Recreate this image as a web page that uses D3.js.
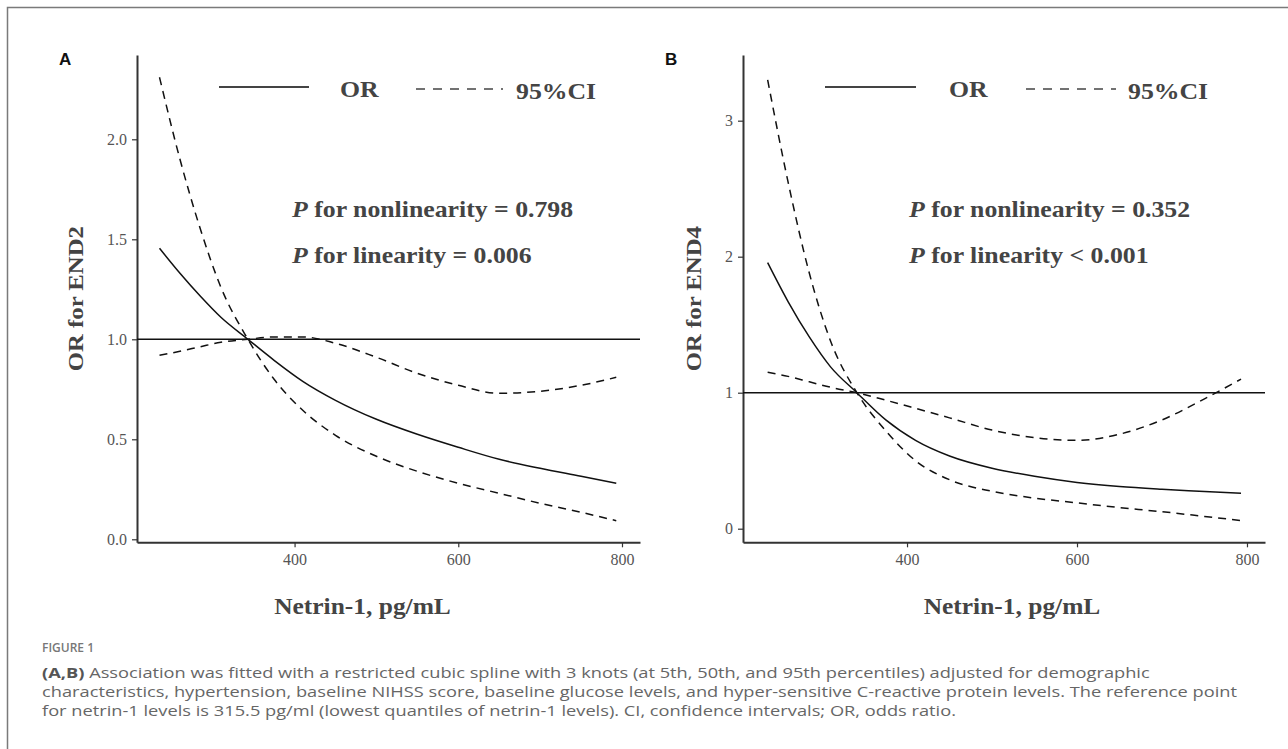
<!DOCTYPE html>
<html><head><meta charset="utf-8">
<script src="https://cdn.jsdelivr.net/npm/d3@7"></script>
<style>
html,body{margin:0;padding:0;background:#fff;}
svg{display:block;}
</style></head>
<body>
<svg id="chart" width="1288" height="749"></svg>
<script>
// ---------- data ----------
const xTicks = [400, 600, 800];
const xA = [235, 260, 285, 310, 343, 375, 410, 450, 500, 550, 600, 650, 700, 750, 793];
const orA = [1.455, 1.33, 1.215, 1.11, 1.0, 0.895, 0.79, 0.695, 0.60, 0.525, 0.46, 0.40, 0.355, 0.315, 0.28];
const lowA = [2.31, 1.90, 1.55, 1.26, 1.0, 0.80, 0.645, 0.52, 0.415, 0.34, 0.28, 0.23, 0.18, 0.135, 0.093];
const upA = [0.92, 0.94, 0.963, 0.985, 1.0, 1.012, 1.012, 0.98, 0.91, 0.83, 0.77, 0.73, 0.74, 0.77, 0.81];
const yTicksA = [0, 0.5, 1.0, 1.5, 2.0];

const xB = [236, 260, 285, 310, 341, 375, 410, 450, 500, 550, 600, 650, 700, 750, 793];
const orB = [1.956, 1.67, 1.41, 1.19, 1.0, 0.80, 0.65, 0.535, 0.445, 0.385, 0.34, 0.31, 0.29, 0.274, 0.26];
const lowB = [3.30, 2.55, 1.88, 1.38, 1.0, 0.72, 0.50, 0.36, 0.275, 0.225, 0.19, 0.155, 0.125, 0.09, 0.06];
const upB = [1.15, 1.12, 1.08, 1.04, 1.0, 0.945, 0.885, 0.815, 0.725, 0.67, 0.65, 0.695, 0.80, 0.955, 1.1];
const yTicksB = [0, 1, 2, 3];

const legendLabels = ["OR", "95%CI"];
const pTextA = ["for nonlinearity = 0.798", "for linearity = 0.006"];
const pTextB = ["for nonlinearity = 0.352", "for linearity < 0.001"];
const xTitle = "Netrin-1, pg/mL";
const yTitleA = "OR for END2";
const yTitleB = "OR for END4";
const captionHead = "FIGURE 1";
const captionLines = [
  ["(A,B)", " Association was fitted with a restricted cubic spline with 3 knots (at 5th, 50th, and 95th percentiles) adjusted for demographic"],
  ["", "characteristics, hypertension, baseline NIHSS score, baseline glucose levels, and hyper-sensitive C-reactive protein levels. The reference point"],
  ["", "for netrin-1 levels is 315.5 pg/ml (lowest quantiles of netrin-1 levels). CI, confidence intervals; OR, odds ratio."]
];

// ---------- drawing ----------
const svg = d3.select("#chart");
const serif = "'Liberation Serif','Times New Roman',serif";

function stretch(sel, k){
  const w = sel.node().getComputedTextLength();
  sel.attr("textLength", w * k).attr("lengthAdjust", "spacingAndGlyphs");
  return sel;
}

// frame
svg.append("path").attr("d","M7.5,749 L7.5,7.5 L1288,7.5")
  .attr("fill","none").attr("stroke","#7a7a7a").attr("stroke-width",1.5);

function panel(cfg){
  const g = svg.append("g");
  const x = d3.scaleLinear().domain(cfg.xDomain).range([cfg.left, cfg.right]);
  const y = d3.scaleLinear().domain(cfg.yDomain).range([cfg.bottom, cfg.top]);

  // panel letter
  g.append("text").attr("x", cfg.letterX).attr("y", 65)
    .attr("font-family","'Liberation Sans',Arial,sans-serif").attr("font-weight","bold")
    .attr("font-size",17).attr("fill","#111").text(cfg.letter);

  // axes
  const ax = g.append("g").attr("transform",`translate(0,${cfg.bottom})`)
    .call(d3.axisBottom(x).tickValues(xTicks).tickSize(5).tickSizeOuter(0).tickPadding(6));
  const ay = g.append("g").attr("transform",`translate(${cfg.left},0)`)
    .call(d3.axisLeft(y).tickValues(cfg.yTicks).tickFormat(cfg.yFmt).tickSize(5).tickSizeOuter(0).tickPadding(5));
  [ax, ay].forEach(a=>{
    a.select(".domain").attr("stroke","#333").attr("stroke-width",2);
    a.selectAll(".tick line").attr("stroke","#333").attr("stroke-width",1.2);
    a.selectAll(".tick text").attr("font-family",serif).attr("font-size",16).attr("fill","#555");
  });

  // reference line at OR = 1
  g.append("line").attr("x1", x(cfg.xDomain[0])).attr("x2", x(cfg.xDomain[1]))
    .attr("y1", y(1)).attr("y2", y(1)).attr("stroke","#111").attr("stroke-width",1.5);

  const line = d3.line().x(d=>x(d[0])).y(d=>y(d[1])).curve(d3.curveMonotoneX);
  const mk = vals => cfg.xs.map((v,i)=>[v, vals[i]]);
  g.append("path").attr("d", line(mk(cfg.low))).attr("fill","none")
    .attr("stroke","#111").attr("stroke-width",1.5).attr("stroke-dasharray","8,6");
  g.append("path").attr("d", line(mk(cfg.up))).attr("fill","none")
    .attr("stroke","#111").attr("stroke-width",1.5).attr("stroke-dasharray","8,6");
  g.append("path").attr("d", line(mk(cfg.or))).attr("fill","none")
    .attr("stroke","#111").attr("stroke-width",1.5);

  // legend
  const lg = cfg.legend;
  g.append("line").attr("x1", lg.x1).attr("x2", lg.x2).attr("y1", 87).attr("y2", 87)
    .attr("stroke","#444").attr("stroke-width",2);
  stretch(g.append("text").attr("x", lg.t1).attr("y", 97).attr("font-family",serif)
    .attr("font-weight","bold").attr("font-size",23).attr("fill","#444").text(legendLabels[0]), 1.12);
  g.append("line").attr("x1", lg.x3).attr("x2", lg.x4).attr("y1", 89).attr("y2", 89)
    .attr("stroke","#444").attr("stroke-width",1.6).attr("stroke-dasharray","9,8");
  stretch(g.append("text").attr("x", lg.t2).attr("y", 99).attr("font-family",serif)
    .attr("font-weight","bold").attr("font-size",23).attr("fill","#444").text(legendLabels[1]), 1.12);

  // p-values
  cfg.pText.forEach((t,i)=>{
    const tx = g.append("text").attr("x", cfg.pX).attr("y", 217 + i*46)
      .attr("font-family",serif).attr("font-weight","bold").attr("font-size",23).attr("fill","#444");
    tx.append("tspan").attr("font-style","italic").text("P");
    tx.append("tspan").text(" " + t);
    stretch(tx, 1.12);
  });

  // titles
  stretch(g.append("text").attr("x", (cfg.left+cfg.right)/2 + cfg.xTitleShift).attr("y", 614)
    .attr("text-anchor","middle").attr("font-family",serif).attr("font-weight","bold")
    .attr("font-size",24).attr("fill","#444").text(xTitle), 1.06);
  g.append("text").attr("transform",`translate(${cfg.yTitleX},${(cfg.top+cfg.bottom)/2}) rotate(-90)`)
    .attr("text-anchor","middle").attr("font-family",serif).attr("font-weight","bold")
    .attr("font-size",21).attr("fill","#444").attr("textLength",145)
    .attr("lengthAdjust","spacingAndGlyphs").text(cfg.yTitle);
}

panel({letter:"A", letterX:59, left:137, right:640, top:55, bottom:542.3,
  xDomain:[207.5, 822], yDomain:[-0.015, 2.4215], yTicks:yTicksA, yFmt:d3.format(".1f"),
  xs:xA, or:orA, low:lowA, up:upA, pText:pTextA, pX:292,
  legend:{x1:219,x2:309,t1:340,x3:416,x4:503,t2:516},
  yTitle:yTitleA, yTitleX:83, xTitleShift:-26});

panel({letter:"B", letterX:665, left:743, right:1265, top:55, bottom:542.3,
  xDomain:[207, 821.2], yDomain:[-0.1, 3.483], yTicks:yTicksB, yFmt:d3.format("d"),
  xs:xB, or:orB, low:lowB, up:upB, pText:pTextB, pX:909,
  legend:{x1:825,x2:916,t1:949,x3:1026,x4:1116,t2:1128},
  yTitle:yTitleB, yTitleX:701, xTitleShift:8});

// caption
const sans = "'Open Sans','Noto Sans',sans-serif";
svg.append("text").attr("x",42).attr("y",652).attr("font-family",sans).attr("font-weight",600)
  .attr("font-size",12).attr("fill","#777").text(captionHead);
const capTexts = captionLines.map((ln,i)=>{
  const t = svg.append("text").attr("x",42).attr("y",678 + i*19).attr("font-family",sans)
    .attr("font-size",15).attr("fill","#666");
  if (ln[0]) t.append("tspan").attr("font-weight","bold").attr("fill","#555").text(ln[0]);
  t.append("tspan").text(ln[1]);
  return t;
});
const k = 1195 / capTexts[1].node().getComputedTextLength();
capTexts.forEach(t=>stretch(t, k));
</script>
</body></html>
